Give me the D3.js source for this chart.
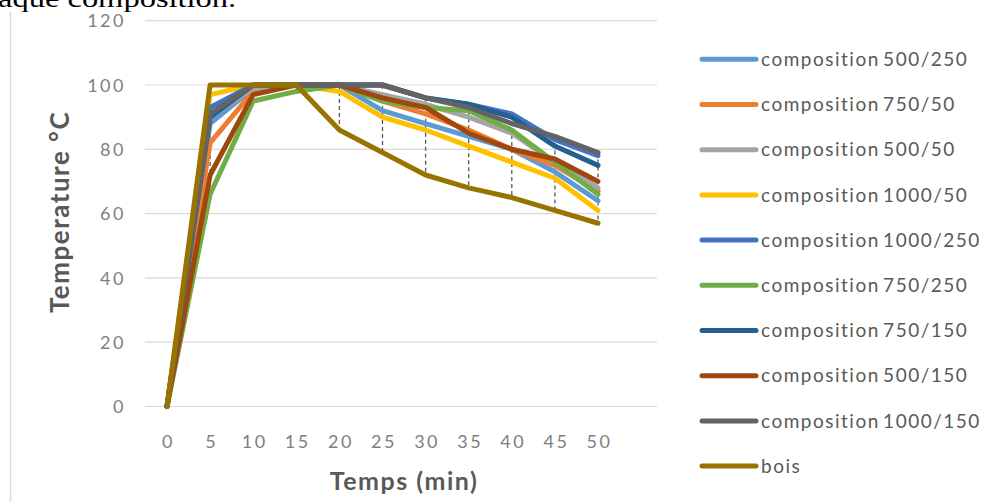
<!DOCTYPE html>
<html>
<head>
<meta charset="utf-8">
<script src="https://cdn.jsdelivr.net/npm/d3@7/dist/d3.min.js"></script>
<style>
  html, body { margin: 0; padding: 0; background: #ffffff; }
  svg { display: block; }
</style>
</head>
<body>
<svg id="chart" width="995" height="502"></svg>
<script>
const times = [0, 5, 10, 15, 20, 25, 30, 35, 40, 45, 50];
const yTicks = [0, 20, 40, 60, 80, 100, 120];
const seriesNames = [
  "composition 500/250", "composition 750/50", "composition 500/50",
  "composition 1000/50", "composition 1000/250", "composition 750/250",
  "composition 750/150", "composition 500/150", "composition 1000/150", "bois"
];
const s500_250  = [0, 88, 99, 100, 100, 92, 88, 84, 80, 73, 64];
const s750_50   = [0, 82, 98, 100, 100, 95, 91, 86, 80, 75, 67];
const s500_50   = [0, 90, 99, 100, 100, 97, 94, 90, 85, 76, 68];
const s1000_50  = [0, 97, 100, 100, 98, 90, 86, 81, 76, 71, 61];
const s1000_250 = [0, 93, 100, 100, 100, 100, 96, 94, 91, 83, 78];
const s750_250  = [0, 66, 95, 98, 100, 95, 93, 92, 86, 76, 66];
const s750_150  = [0, 90, 100, 100, 100, 100, 96, 94, 90, 81, 75];
const s500_150  = [0, 72, 97, 100, 100, 96, 93, 85, 80, 77, 70];
const s1000_150 = [0, 91, 100, 100, 100, 100, 96, 93, 88, 84, 79];
const sBois     = [0, 100, 100, 100, 86, 79, 72, 68, 65, 61, 57];
const seriesValues = [s500_250, s750_50, s500_50, s1000_50, s1000_250, s750_250, s750_150, s500_150, s1000_150, sBois];
const colors = ["#5B9BD5", "#ED7D31", "#A5A5A5", "#FFC000", "#4472C4", "#70AD47", "#255E91", "#9E480E", "#636363", "#997300"];

const svg = d3.select("#chart");
const sans = "Lato, 'Open Sans', sans-serif";

// text line from the surrounding document (cut by the top edge, as in the source)
svg.append("text")
  .attr("transform", "translate(-2,7) scale(1.25,1)")
  .attr("font-family", "Liberation Serif, serif")
  .attr("font-size", 26)
  .attr("fill", "#000")
  .text("aque composition.");

// chart frame left edge
svg.append("line")
  .attr("x1", 10.5).attr("x2", 10.5).attr("y1", 12).attr("y2", 502)
  .attr("stroke", "#d9d9d9").attr("stroke-width", 1.5);

const x = d3.scalePoint().domain(times).range([167, 598]);
const y = d3.scaleLinear().domain([0, 120]).range([406.5, 20.7]);
const gridX0 = 145, gridX1 = 657;

// gridlines
svg.append("g").selectAll("line").data(yTicks).join("line")
  .attr("x1", gridX0).attr("x2", gridX1)
  .attr("y1", d => y(d)).attr("y2", d => y(d))
  .attr("stroke", "#d9d9d9").attr("stroke-width", 1.2);

// y axis labels
const yAxis = d3.axisLeft(y).tickValues(yTicks).tickSize(0).tickPadding(0);
const gy = svg.append("g").attr("transform", "translate(126,0)").call(yAxis);
gy.select(".domain").remove();
gy.selectAll("text")
  .attr("font-family", sans)
  .attr("font-size", 18).attr("fill", "#7f7f7f")
  .attr("letter-spacing", 2.5)
  .attr("dy", "0.34em");

// x axis labels
const xAxis = d3.axisBottom(x).tickSize(0).tickPadding(0);
const gx = svg.append("g").attr("transform", "translate(1,448)").call(xAxis);
gx.select(".domain").remove();
gx.selectAll("text")
  .attr("font-family", sans)
  .attr("font-size", 18).attr("fill", "#7f7f7f")
  .attr("letter-spacing", 2.5)
  .attr("dy", "0");

// high-low lines
const hl = times.map((t, i) => {
  const vals = seriesValues.map(s => s[i]);
  return { t, hi: d3.max(vals), lo: d3.min(vals) };
});
svg.append("g").selectAll("line").data(hl).join("line")
  .attr("x1", d => x(d.t)).attr("x2", d => x(d.t))
  .attr("y1", d => y(d.hi)).attr("y2", d => y(d.lo))
  .attr("stroke", "#595959").attr("stroke-width", 1.3)
  .attr("stroke-dasharray", "4,3");

// series lines
const line = d3.line().x((d, i) => x(times[i])).y(d => y(d));
svg.append("g").selectAll("path").data(seriesValues).join("path")
  .attr("d", d => line(d))
  .attr("fill", "none")
  .attr("stroke", (d, i) => colors[i])
  .attr("stroke-width", 5)
  .attr("stroke-linejoin", "round")
  .attr("stroke-linecap", "round");

// axis titles
svg.append("text")
  .attr("x", 404).attr("y", 490)
  .attr("text-anchor", "middle")
  .attr("font-family", sans)
  .attr("font-weight", "bold").attr("font-size", 25)
  .attr("letter-spacing", 1.5)
  .attr("fill", "#595959")
  .text("Temps (min)");

svg.append("text")
  .attr("transform", "translate(60,212) rotate(-90)")
  .attr("text-anchor", "middle")
  .attr("dy", "0.35em")
  .attr("font-family", sans)
  .attr("font-weight", "bold").attr("font-size", 26)
  .attr("letter-spacing", 1.5)
  .attr("fill", "#595959")
  .text("Temperature °C");

// legend
const legend = svg.append("g").selectAll("g").data(seriesNames).join("g")
  .attr("transform", (d, i) => `translate(700,${59.3 + i * 45.2})`);
legend.append("line")
  .attr("x1", 2).attr("x2", 56).attr("y1", 0).attr("y2", 0)
  .attr("stroke", (d, i) => colors[i])
  .attr("stroke-width", 5).attr("stroke-linecap", "round");
legend.append("text")
  .attr("x", 61).attr("y", 0).attr("dy", "0.35em")
  .attr("font-family", sans)
  .attr("font-size", 19).attr("fill", "#595959")
  .attr("letter-spacing", 1.5)
  .attr("word-spacing", -3)
  .text(d => d);
</script>
</body>
</html>
